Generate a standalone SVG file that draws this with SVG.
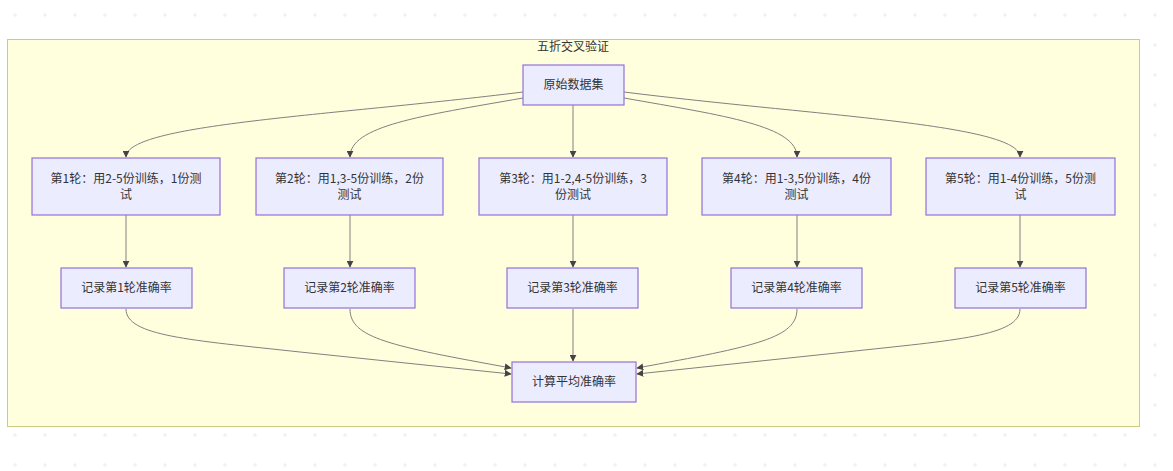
<svg xmlns="http://www.w3.org/2000/svg" width="1173" height="471" viewBox="0 0 1173 471">
<defs>
<pattern id="grid" x="0" y="0" width="30" height="30" patternUnits="userSpaceOnUse">
<path d="M13,15 h4 M15,13 v4" stroke="#ececec" stroke-width="1"/>
</pattern>
<marker id="arr" viewBox="0 0 10 10" refX="9" refY="5" markerWidth="7" markerHeight="7" orient="auto-start-reverse" markerUnits="userSpaceOnUse">
<path d="M0,0 L10,5 L0,10 z" fill="#444"/>
</marker>
</defs>
<style>
.node rect{fill:#ECECFF;stroke:#9370DB;stroke-width:1.2}
.node text, .title{font-family:"Noto Sans CJK SC","Liberation Sans",sans-serif;font-size:12px;fill:#333;text-anchor:middle}
.edges path{fill:none;stroke:#808080;stroke-width:1;marker-end:url(#arr)}
</style>
<rect x="0" y="0" width="1173" height="471" fill="#ffffff"/>
<rect x="0" y="0" width="1173" height="471" fill="url(#grid)"/>
<g id="cluster">
<rect x="7.5" y="39.5" width="1132" height="387" fill="#ffffde" stroke="#cccc80" stroke-width="1"/>
<text class="title" x="573" y="51">五折交叉验证</text>
</g>
<g class="edges" id="connectors">
<path d="M523,92 C330,116 126,124 126,157"/>
<path d="M523,98 C420,116 350,126 350,157"/>
<path d="M573,105 L573,157"/>
<path d="M624,98 C726,116 797,126 797,157"/>
<path d="M624,92 C816,116 1020,124 1020,157"/>
<path d="M126,215 L126,267"/>
<path d="M350,215 L350,267"/>
<path d="M573,215 L573,267"/>
<path d="M797,215 L797,267"/>
<path d="M1020,215 L1020,267"/>
<path d="M126,309 C126,336 190,340 300,352 L511,374"/>
<path d="M350,309 C350,338 390,346 511,368"/>
<path d="M573,309 L573,361"/>
<path d="M797,309 C797,338 757,346 637,368"/>
<path d="M1020,309 C1020,336 956,340 846,352 L637,374"/>
</g>
<g class="node" id="n-data"><rect x="523" y="65" width="101" height="40"/><text x="573.5" y="89">原始数据集</text></g>
<g class="node" id="n-r1"><rect x="32" y="158" width="188" height="57"/><text x="126" y="183">第1轮：用2-5份训练，1份测</text><text x="126" y="199">试</text></g>
<g class="node" id="n-r2"><rect x="256" y="158" width="187" height="57"/><text x="349.5" y="183">第2轮：用1,3-5份训练，2份</text><text x="349.5" y="199">测试</text></g>
<g class="node" id="n-r3"><rect x="479" y="158" width="188" height="57"/><text x="573" y="183">第3轮：用1-2,4-5份训练，3</text><text x="573" y="199">份测试</text></g>
<g class="node" id="n-r4"><rect x="702" y="158" width="189" height="57"/><text x="796.5" y="183">第4轮：用1-3,5份训练，4份</text><text x="796.5" y="199">测试</text></g>
<g class="node" id="n-r5"><rect x="926" y="158" width="189" height="57"/><text x="1020.5" y="183">第5轮：用1-4份训练，5份测</text><text x="1020.5" y="199">试</text></g>
<g class="node" id="n-a1"><rect x="61" y="268" width="131" height="40"/><text x="126.5" y="292">记录第1轮准确率</text></g>
<g class="node" id="n-a2"><rect x="284" y="268" width="131" height="40"/><text x="349.5" y="292">记录第2轮准确率</text></g>
<g class="node" id="n-a3"><rect x="507" y="268" width="131" height="40"/><text x="572.5" y="292">记录第3轮准确率</text></g>
<g class="node" id="n-a4"><rect x="731" y="268" width="131" height="40"/><text x="796.5" y="292">记录第4轮准确率</text></g>
<g class="node" id="n-a5"><rect x="955" y="268" width="131" height="40"/><text x="1020.5" y="292">记录第5轮准确率</text></g>
<g class="node" id="n-avg"><rect x="512" y="362" width="124" height="40"/><text x="574" y="386">计算平均准确率</text></g>
</svg>
